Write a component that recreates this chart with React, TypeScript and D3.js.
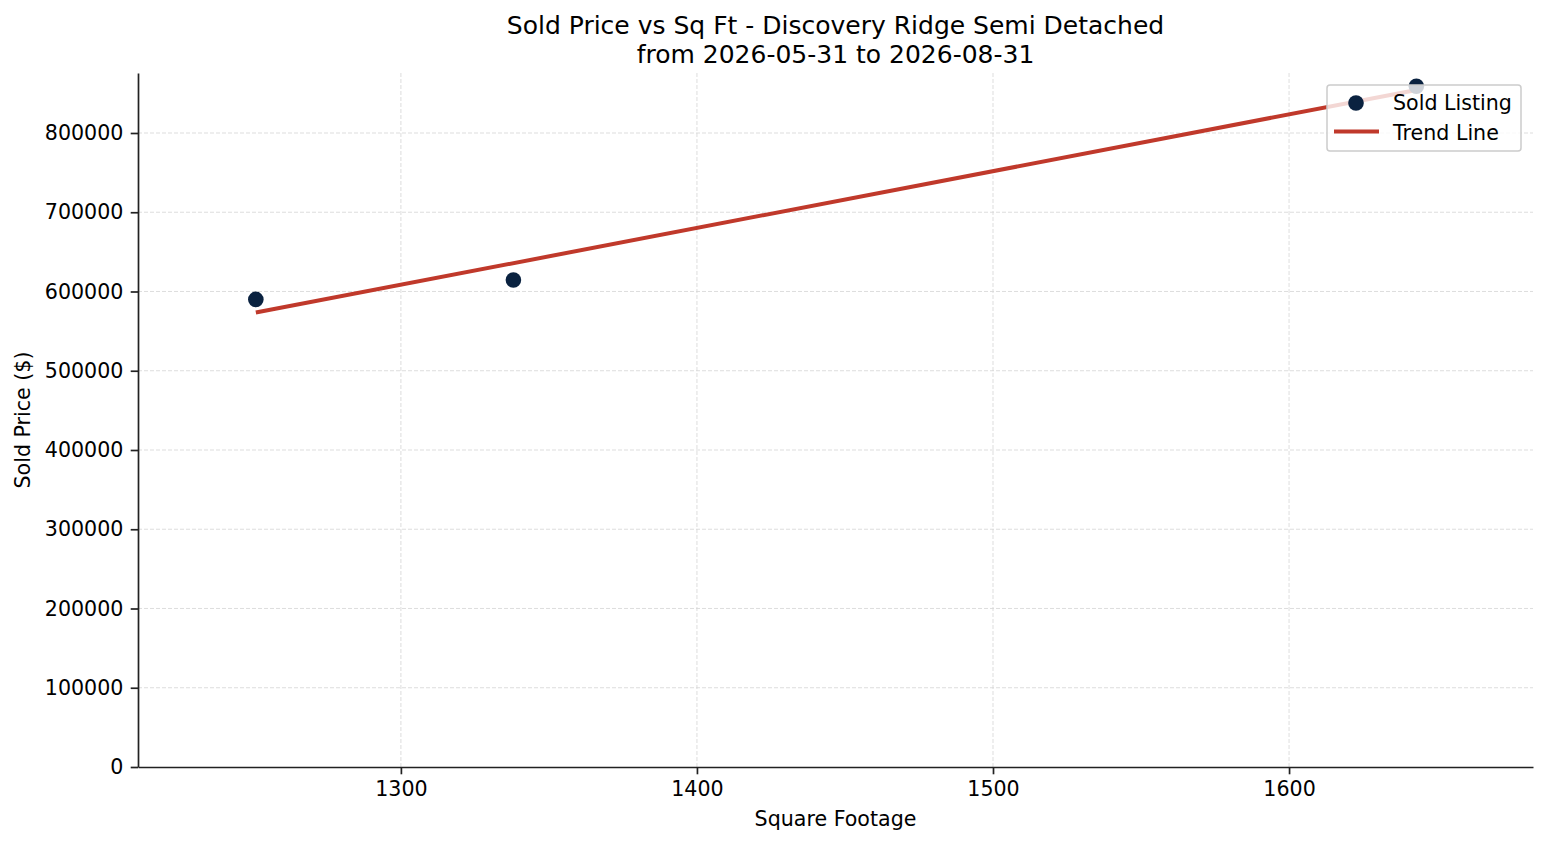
import React, { useEffect, useRef } from 'react';
import * as d3 from 'd3';

// sold listings
const sqft = [1251, 1338, 1643];
const soldPrice = [590000, 614500, 859000];

const xTicks = [1300, 1400, 1500, 1600];
const yTicks = [0, 100000, 200000, 300000, 400000, 500000, 600000, 700000, 800000];

const titleLines = ['Sold Price vs Sq Ft - Discovery Ridge Semi Detached', 'from 2026-05-31 to 2026-08-31'];
const legendLabels = ['Sold Listing', 'Trend Line'];

const W = 1547;
const H = 845;
const margin = { top: 73, right: 14, bottom: 78, left: 138 };
const FONT = '"DejaVu Sans", sans-serif';
const POINT = '#0a2240';
const TREND = '#c0392b';

// least squares fit, like np.polyfit(x, y, 1)
function linearFit(xs: number[], ys: number[]) {
  const mx = d3.mean(xs) as number;
  const my = d3.mean(ys) as number;
  let sxy = 0;
  let sxx = 0;
  xs.forEach((x, i) => {
    sxy += (x - mx) * (ys[i] - my);
    sxx += (x - mx) * (x - mx);
  });
  const slope = sxy / sxx;
  return (x: number) => my + slope * (x - mx);
}

export default function App() {
  const svgRef = useRef<SVGSVGElement>(null);

  useEffect(() => {
    if (!svgRef.current) return;
    const svg = d3.select(svgRef.current);
    svg.selectAll('*').remove();

    const iw = W - margin.left - margin.right;
    const ih = H - margin.top - margin.bottom;

    const x = d3.scaleLinear().domain([1211.2, 1682.4]).range([0, iw]);
    const y = d3.scaleLinear().domain([0, 875700]).range([ih, 0]);

    svg.append('rect').attr('width', W).attr('height', H).attr('fill', '#fff');

    const g = svg.append('g').attr('transform', `translate(${margin.left},${margin.top})`);

    // grid
    g.append('g')
      .selectAll('line')
      .data(xTicks)
      .join('line')
      .attr('x1', d => x(d)).attr('x2', d => x(d))
      .attr('y1', 0).attr('y2', ih)
      .attr('stroke', '#d4d4d4').attr('stroke-width', 0.8).attr('stroke-dasharray', '4,2');
    g.append('g')
      .selectAll('line')
      .data(yTicks.filter(d => d > 0))
      .join('line')
      .attr('x1', 0).attr('x2', iw)
      .attr('y1', d => y(d)).attr('y2', d => y(d))
      .attr('stroke', '#d4d4d4').attr('stroke-width', 0.8).attr('stroke-dasharray', '4,2');

    // trend line
    const fit = linearFit(sqft, soldPrice);
    const [xmin, xmax] = d3.extent(sqft) as [number, number];
    const line = d3.line<number>().x(d => x(d)).y(d => y(fit(d)));
    g.append('path')
      .datum([xmin, xmax])
      .attr('d', line)
      .attr('fill', 'none')
      .attr('stroke', TREND)
      .attr('stroke-width', 4);

    // points
    g.append('g')
      .selectAll('circle')
      .data(sqft)
      .join('circle')
      .attr('cx', d => x(d))
      .attr('cy', (d, i) => y(soldPrice[i]))
      .attr('r', 7.8)
      .attr('fill', POINT);

    // axes
    const xAxis = g.append('g')
      .attr('transform', `translate(0,${ih})`)
      .call(d3.axisBottom(x).tickValues(xTicks).tickFormat(d3.format('d')).tickSize(7.3).tickPadding(7.3).tickSizeOuter(0));
    const yAxis = g.append('g')
      .call(d3.axisLeft(y).tickValues(yTicks).tickFormat(d3.format('d')).tickSize(7.3).tickPadding(7.3).tickSizeOuter(0));
    [xAxis, yAxis].forEach(a => {
      a.select('.domain').attr('stroke', '#222').attr('stroke-width', 1.7);
      a.selectAll('.tick line').attr('stroke', '#222').attr('stroke-width', 1.7);
      a.selectAll('.tick text').attr('fill', '#000').style('font-family', FONT).style('font-size', '20.6px');
    });

    // labels
    svg.append('text')
      .attr('x', margin.left + iw / 2).attr('y', 826)
      .attr('text-anchor', 'middle')
      .style('font-family', FONT).style('font-size', '20.6px')
      .text('Square Footage');
    svg.append('text')
      .attr('transform', `translate(30,${margin.top + ih / 2}) rotate(-90)`)
      .attr('text-anchor', 'middle')
      .style('font-family', FONT).style('font-size', '20.6px')
      .text('Sold Price ($)');

    svg.append('g')
      .selectAll('text')
      .data(titleLines)
      .join('text')
      .attr('x', margin.left + iw / 2)
      .attr('y', (d, i) => 34 + i * 28.5)
      .attr('text-anchor', 'middle')
      .style('font-family', FONT).style('font-size', '25px')
      .text(d => d);

    // legend
    const lg = svg.append('g').attr('transform', 'translate(1327,85)');
    lg.append('rect')
      .attr('width', 194).attr('height', 66).attr('rx', 3)
      .attr('fill', 'rgba(255,255,255,0.8)')
      .attr('stroke', '#cccccc').attr('stroke-width', 1.5);
    lg.append('circle').attr('cx', 29).attr('cy', 18).attr('r', 7.8).attr('fill', POINT);
    lg.append('line').attr('x1', 7).attr('x2', 52).attr('y1', 46.5).attr('y2', 46.5)
      .attr('stroke', TREND).attr('stroke-width', 4);
    lg.selectAll('text.lbl')
      .data(legendLabels)
      .join('text')
      .attr('class', 'lbl')
      .attr('x', 66)
      .attr('y', (d, i) => 25 + i * 29.5)
      .style('font-family', FONT).style('font-size', '20.6px')
      .text(d => d);
  }, []);

  return (
    <svg
      ref={svgRef}
      width={W}
      height={H}
      style={{ position: 'absolute', left: 0, top: 0, display: 'block' }}
    />
  );
}
